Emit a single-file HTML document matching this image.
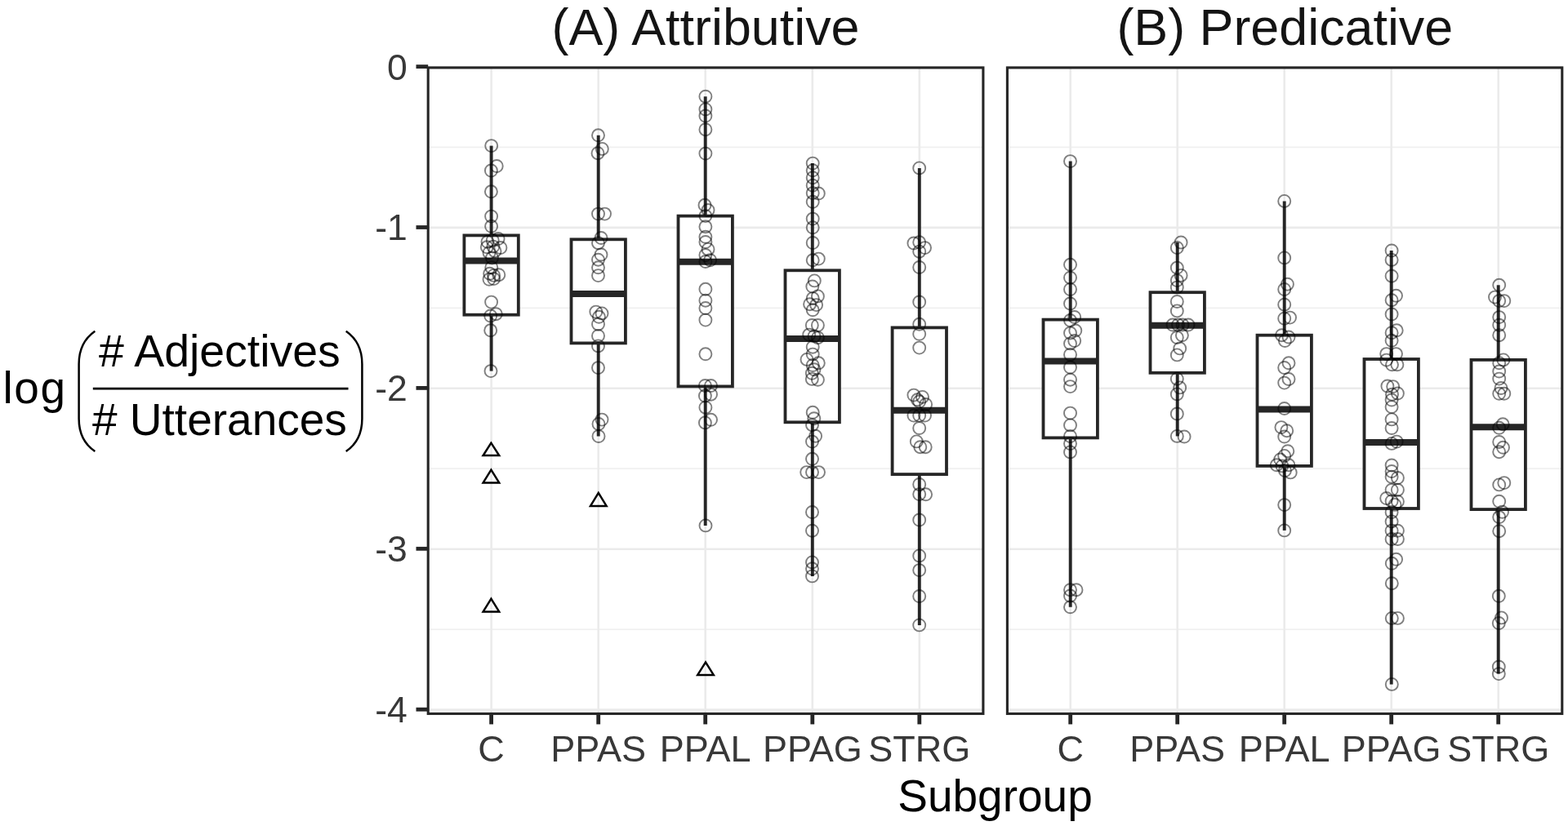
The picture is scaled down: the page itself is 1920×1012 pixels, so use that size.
<!DOCTYPE html><html><head><meta charset="utf-8"><title>Adjectives boxplot</title><style>html,body{margin:0;padding:0;background:#fff;}svg{display:block;}text{font-family:"Liberation Sans",sans-serif;}</style></head><body>
<svg width="1920" height="1012" viewBox="0 0 1920 1012">
<rect x="0" y="0" width="1920" height="1012" fill="#fff"/>
<line x1="524.2" x2="1203.9" y1="180.4" y2="180.4" stroke="#F0F0F0" stroke-width="1.8"/>
<line x1="524.2" x2="1203.9" y1="377.4" y2="377.4" stroke="#F0F0F0" stroke-width="1.8"/>
<line x1="524.2" x2="1203.9" y1="574.2" y2="574.2" stroke="#F0F0F0" stroke-width="1.8"/>
<line x1="524.2" x2="1203.9" y1="771.1" y2="771.1" stroke="#F0F0F0" stroke-width="1.8"/>
<line x1="524.2" x2="1203.9" y1="82" y2="82" stroke="#EBEBEB" stroke-width="2.6"/>
<line x1="524.2" x2="1203.9" y1="278.9" y2="278.9" stroke="#EBEBEB" stroke-width="2.6"/>
<line x1="524.2" x2="1203.9" y1="475.8" y2="475.8" stroke="#EBEBEB" stroke-width="2.6"/>
<line x1="524.2" x2="1203.9" y1="672.7" y2="672.7" stroke="#EBEBEB" stroke-width="2.6"/>
<line x1="524.2" x2="1203.9" y1="869.6" y2="869.6" stroke="#EBEBEB" stroke-width="2.6"/>
<line x1="601.6" x2="601.6" y1="82.9" y2="874.4" stroke="#EBEBEB" stroke-width="2.6"/>
<line x1="732.7" x2="732.7" y1="82.9" y2="874.4" stroke="#EBEBEB" stroke-width="2.6"/>
<line x1="863.7" x2="863.7" y1="82.9" y2="874.4" stroke="#EBEBEB" stroke-width="2.6"/>
<line x1="994.8" x2="994.8" y1="82.9" y2="874.4" stroke="#EBEBEB" stroke-width="2.6"/>
<line x1="1125.8" x2="1125.8" y1="82.9" y2="874.4" stroke="#EBEBEB" stroke-width="2.6"/>
<line x1="1233.4" x2="1912.8" y1="180.4" y2="180.4" stroke="#F0F0F0" stroke-width="1.8"/>
<line x1="1233.4" x2="1912.8" y1="377.4" y2="377.4" stroke="#F0F0F0" stroke-width="1.8"/>
<line x1="1233.4" x2="1912.8" y1="574.2" y2="574.2" stroke="#F0F0F0" stroke-width="1.8"/>
<line x1="1233.4" x2="1912.8" y1="771.1" y2="771.1" stroke="#F0F0F0" stroke-width="1.8"/>
<line x1="1233.4" x2="1912.8" y1="82" y2="82" stroke="#EBEBEB" stroke-width="2.6"/>
<line x1="1233.4" x2="1912.8" y1="278.9" y2="278.9" stroke="#EBEBEB" stroke-width="2.6"/>
<line x1="1233.4" x2="1912.8" y1="475.8" y2="475.8" stroke="#EBEBEB" stroke-width="2.6"/>
<line x1="1233.4" x2="1912.8" y1="672.7" y2="672.7" stroke="#EBEBEB" stroke-width="2.6"/>
<line x1="1233.4" x2="1912.8" y1="869.6" y2="869.6" stroke="#EBEBEB" stroke-width="2.6"/>
<line x1="1310.7" x2="1310.7" y1="82.9" y2="874.4" stroke="#EBEBEB" stroke-width="2.6"/>
<line x1="1441.7" x2="1441.7" y1="82.9" y2="874.4" stroke="#EBEBEB" stroke-width="2.6"/>
<line x1="1572.7" x2="1572.7" y1="82.9" y2="874.4" stroke="#EBEBEB" stroke-width="2.6"/>
<line x1="1703.7" x2="1703.7" y1="82.9" y2="874.4" stroke="#EBEBEB" stroke-width="2.6"/>
<line x1="1834.7" x2="1834.7" y1="82.9" y2="874.4" stroke="#EBEBEB" stroke-width="2.6"/>
<line x1="601.6" x2="601.6" y1="178.6" y2="288.4" stroke="#262626" stroke-width="3.9"/>
<line x1="601.6" x2="601.6" y1="385.7" y2="454.6" stroke="#262626" stroke-width="3.9"/>
<rect x="568.4" y="288.4" width="66.4" height="97.3" fill="#fff" stroke="#262626" stroke-width="3.8"/>
<line x1="568.4" x2="634.8" y1="319.4" y2="319.4" stroke="#262626" stroke-width="8"/>
<polygon points="601.4,542.7 591.6,558 611.2,558" fill="none" stroke="#000" stroke-width="2.5" stroke-linejoin="miter"/>
<polygon points="601.4,575.6 591.6,591.4 611.2,591.4" fill="none" stroke="#000" stroke-width="2.5" stroke-linejoin="miter"/>
<polygon points="601.4,733.6 591.6,749.4 611.2,749.4" fill="none" stroke="#000" stroke-width="2.5" stroke-linejoin="miter"/>
<line x1="732.7" x2="732.7" y1="165.8" y2="293.3" stroke="#262626" stroke-width="3.9"/>
<line x1="732.7" x2="732.7" y1="420.4" y2="534.5" stroke="#262626" stroke-width="3.9"/>
<rect x="699.5" y="293.3" width="66.4" height="127.1" fill="#fff" stroke="#262626" stroke-width="3.8"/>
<line x1="699.5" x2="765.9" y1="360" y2="360" stroke="#262626" stroke-width="8"/>
<polygon points="732.8,603.9 723,619.9 742.6,619.9" fill="none" stroke="#000" stroke-width="2.5" stroke-linejoin="miter"/>
<line x1="863.7" x2="863.7" y1="118.2" y2="264.6" stroke="#262626" stroke-width="3.9"/>
<line x1="863.7" x2="863.7" y1="473.4" y2="643.9" stroke="#262626" stroke-width="3.9"/>
<rect x="830.5" y="264.6" width="66.4" height="208.8" fill="#fff" stroke="#262626" stroke-width="3.8"/>
<line x1="830.5" x2="896.9" y1="320.7" y2="320.7" stroke="#262626" stroke-width="8"/>
<polygon points="864,811.3 854.2,826.9 873.8,826.9" fill="none" stroke="#000" stroke-width="2.5" stroke-linejoin="miter"/>
<line x1="994.8" x2="994.8" y1="200.1" y2="331.3" stroke="#262626" stroke-width="3.9"/>
<line x1="994.8" x2="994.8" y1="517.3" y2="705.9" stroke="#262626" stroke-width="3.9"/>
<rect x="961.5" y="331.3" width="66.4" height="186" fill="#fff" stroke="#262626" stroke-width="3.8"/>
<line x1="961.5" x2="1028" y1="415" y2="415" stroke="#262626" stroke-width="8"/>
<line x1="1125.8" x2="1125.8" y1="205.9" y2="401.4" stroke="#262626" stroke-width="3.9"/>
<line x1="1125.8" x2="1125.8" y1="581.1" y2="765.9" stroke="#262626" stroke-width="3.9"/>
<rect x="1092.6" y="401.4" width="66.4" height="179.7" fill="#fff" stroke="#262626" stroke-width="3.8"/>
<line x1="1092.6" x2="1159" y1="502.8" y2="502.8" stroke="#262626" stroke-width="8"/>
<line x1="1310.7" x2="1310.7" y1="197.6" y2="391.6" stroke="#262626" stroke-width="3.9"/>
<line x1="1310.7" x2="1310.7" y1="536.4" y2="743.8" stroke="#262626" stroke-width="3.9"/>
<rect x="1277.5" y="391.6" width="66.4" height="144.8" fill="#fff" stroke="#262626" stroke-width="3.8"/>
<line x1="1277.5" x2="1343.9" y1="442.5" y2="442.5" stroke="#262626" stroke-width="8"/>
<line x1="1441.7" x2="1441.7" y1="297" y2="358.2" stroke="#262626" stroke-width="3.9"/>
<line x1="1441.7" x2="1441.7" y1="456.8" y2="534.4" stroke="#262626" stroke-width="3.9"/>
<rect x="1408.5" y="358.2" width="66.4" height="98.6" fill="#fff" stroke="#262626" stroke-width="3.8"/>
<line x1="1408.5" x2="1474.9" y1="398.8" y2="398.8" stroke="#262626" stroke-width="8"/>
<line x1="1572.7" x2="1572.7" y1="246.4" y2="410.7" stroke="#262626" stroke-width="3.9"/>
<line x1="1572.7" x2="1572.7" y1="570.9" y2="649.9" stroke="#262626" stroke-width="3.9"/>
<rect x="1539.5" y="410.7" width="66.4" height="160.2" fill="#fff" stroke="#262626" stroke-width="3.8"/>
<line x1="1539.5" x2="1605.9" y1="501.4" y2="501.4" stroke="#262626" stroke-width="8"/>
<line x1="1703.7" x2="1703.7" y1="307" y2="440" stroke="#262626" stroke-width="3.9"/>
<line x1="1703.7" x2="1703.7" y1="623" y2="838.4" stroke="#262626" stroke-width="3.9"/>
<rect x="1670.5" y="440" width="66.4" height="183" fill="#fff" stroke="#262626" stroke-width="3.8"/>
<line x1="1670.5" x2="1736.9" y1="542.1" y2="542.1" stroke="#262626" stroke-width="8"/>
<line x1="1834.7" x2="1834.7" y1="349.3" y2="440.9" stroke="#262626" stroke-width="3.9"/>
<line x1="1834.7" x2="1834.7" y1="624.1" y2="825.6" stroke="#262626" stroke-width="3.9"/>
<rect x="1801.5" y="440.9" width="66.4" height="183.2" fill="#fff" stroke="#262626" stroke-width="3.8"/>
<line x1="1801.5" x2="1867.9" y1="523.2" y2="523.2" stroke="#262626" stroke-width="8"/>
<g fill="none" stroke="#000" stroke-opacity="0.5" stroke-width="1.9">
<circle cx="601.7" cy="178.6" r="7.5"/>
<circle cx="608.2" cy="203.5" r="7.5"/>
<circle cx="601.4" cy="209" r="7.5"/>
<circle cx="601.4" cy="234.8" r="7.5"/>
<circle cx="601.6" cy="265.1" r="7.5"/>
<circle cx="601.6" cy="277.3" r="7.5"/>
<circle cx="603.2" cy="294.5" r="7.5"/>
<circle cx="610.1" cy="292.5" r="7.5"/>
<circle cx="597" cy="296.3" r="7.5"/>
<circle cx="596.3" cy="302.8" r="7.5"/>
<circle cx="612.9" cy="303.5" r="7.5"/>
<circle cx="603.9" cy="302.1" r="7.5"/>
<circle cx="599" cy="309.7" r="7.5"/>
<circle cx="606" cy="307.7" r="7.5"/>
<circle cx="602.5" cy="316" r="7.5"/>
<circle cx="601.8" cy="327.7" r="7.5"/>
<circle cx="599.7" cy="335.3" r="7.5"/>
<circle cx="604.6" cy="337.4" r="7.5"/>
<circle cx="610.8" cy="336.7" r="7.5"/>
<circle cx="599" cy="342.3" r="7.5"/>
<circle cx="604.6" cy="341.6" r="7.5"/>
<circle cx="601.6" cy="370.1" r="7.5"/>
<circle cx="600.7" cy="387" r="7.5"/>
<circle cx="607.3" cy="384.7" r="7.5"/>
<circle cx="600.7" cy="404.8" r="7.5"/>
<circle cx="601" cy="454.6" r="7.5"/>
<circle cx="732.5" cy="165.8" r="7.5"/>
<circle cx="737.3" cy="182.4" r="7.5"/>
<circle cx="732" cy="187.7" r="7.5"/>
<circle cx="732.5" cy="262.1" r="7.5"/>
<circle cx="740.5" cy="262.1" r="7.5"/>
<circle cx="736" cy="291.5" r="7.5"/>
<circle cx="732.5" cy="297.7" r="7.5"/>
<circle cx="736" cy="312" r="7.5"/>
<circle cx="732.5" cy="318.2" r="7.5"/>
<circle cx="732.5" cy="327.8" r="7.5"/>
<circle cx="732.5" cy="337.6" r="7.5"/>
<circle cx="729.8" cy="382.1" r="7.5"/>
<circle cx="737" cy="383.9" r="7.5"/>
<circle cx="733.4" cy="388.3" r="7.5"/>
<circle cx="732.5" cy="397.2" r="7.5"/>
<circle cx="732.5" cy="411.5" r="7.5"/>
<circle cx="732.5" cy="423.9" r="7.5"/>
<circle cx="732.5" cy="450.6" r="7.5"/>
<circle cx="737" cy="514.1" r="7.5"/>
<circle cx="733" cy="519.5" r="7.5"/>
<circle cx="733" cy="534.5" r="7.5"/>
<circle cx="863.9" cy="118.2" r="7.5"/>
<circle cx="863.9" cy="133.9" r="7.5"/>
<circle cx="863.9" cy="142" r="7.5"/>
<circle cx="863.9" cy="158.7" r="7.5"/>
<circle cx="863.9" cy="188.1" r="7.5"/>
<circle cx="863" cy="251.3" r="7.5"/>
<circle cx="867" cy="257.5" r="7.5"/>
<circle cx="863.9" cy="264.6" r="7.5"/>
<circle cx="863.9" cy="277.8" r="7.5"/>
<circle cx="863.9" cy="290.3" r="7.5"/>
<circle cx="863.9" cy="296.5" r="7.5"/>
<circle cx="867" cy="305.4" r="7.5"/>
<circle cx="863.9" cy="312.5" r="7.5"/>
<circle cx="869.6" cy="318.7" r="7.5"/>
<circle cx="863.9" cy="320.5" r="7.5"/>
<circle cx="863.9" cy="354.3" r="7.5"/>
<circle cx="863.9" cy="368.2" r="7.5"/>
<circle cx="863.9" cy="377.5" r="7.5"/>
<circle cx="863.9" cy="392.1" r="7.5"/>
<circle cx="863.9" cy="433.8" r="7.5"/>
<circle cx="863.4" cy="472.5" r="7.5"/>
<circle cx="870.5" cy="472.5" r="7.5"/>
<circle cx="863.4" cy="485" r="7.5"/>
<circle cx="870.5" cy="483.2" r="7.5"/>
<circle cx="863.9" cy="499.2" r="7.5"/>
<circle cx="870.5" cy="514.3" r="7.5"/>
<circle cx="863.4" cy="517.9" r="7.5"/>
<circle cx="864" cy="643.9" r="7.5"/>
<circle cx="995.2" cy="200.1" r="7.5"/>
<circle cx="995.2" cy="208.8" r="7.5"/>
<circle cx="995.2" cy="217.7" r="7.5"/>
<circle cx="995.2" cy="227.2" r="7.5"/>
<circle cx="995.2" cy="236.6" r="7.5"/>
<circle cx="1002.3" cy="237" r="7.5"/>
<circle cx="995.2" cy="247.3" r="7.5"/>
<circle cx="995.2" cy="268.1" r="7.5"/>
<circle cx="995.2" cy="278.8" r="7.5"/>
<circle cx="995.2" cy="297.5" r="7.5"/>
<circle cx="995.2" cy="318.8" r="7.5"/>
<circle cx="1002.3" cy="317.1" r="7.5"/>
<circle cx="997.3" cy="343.9" r="7.5"/>
<circle cx="994.8" cy="351" r="7.5"/>
<circle cx="1001.4" cy="362.9" r="7.5"/>
<circle cx="995.2" cy="365.6" r="7.5"/>
<circle cx="991.6" cy="372.7" r="7.5"/>
<circle cx="999.6" cy="373.6" r="7.5"/>
<circle cx="995.2" cy="379.8" r="7.5"/>
<circle cx="994.3" cy="398.5" r="7.5"/>
<circle cx="1001.4" cy="398.5" r="7.5"/>
<circle cx="990.7" cy="410.1" r="7.5"/>
<circle cx="997" cy="411.9" r="7.5"/>
<circle cx="1001.4" cy="413.7" r="7.5"/>
<circle cx="995.2" cy="425.2" r="7.5"/>
<circle cx="995.2" cy="434.1" r="7.5"/>
<circle cx="988" cy="440.4" r="7.5"/>
<circle cx="1002.3" cy="444.8" r="7.5"/>
<circle cx="995.2" cy="447.5" r="7.5"/>
<circle cx="997" cy="452.8" r="7.5"/>
<circle cx="994.3" cy="457.3" r="7.5"/>
<circle cx="994.3" cy="464.4" r="7.5"/>
<circle cx="1001.4" cy="465.3" r="7.5"/>
<circle cx="995.2" cy="505.3" r="7.5"/>
<circle cx="996.8" cy="512.7" r="7.5"/>
<circle cx="994.5" cy="520.7" r="7.5"/>
<circle cx="998.6" cy="534.3" r="7.5"/>
<circle cx="994.5" cy="541.1" r="7.5"/>
<circle cx="994.5" cy="562.3" r="7.5"/>
<circle cx="987.7" cy="578.6" r="7.5"/>
<circle cx="994.5" cy="578.6" r="7.5"/>
<circle cx="1002.5" cy="578.6" r="7.5"/>
<circle cx="994.5" cy="627.5" r="7.5"/>
<circle cx="994.5" cy="650.2" r="7.5"/>
<circle cx="994.5" cy="688.9" r="7.5"/>
<circle cx="994.5" cy="696.8" r="7.5"/>
<circle cx="994.5" cy="705.9" r="7.5"/>
<circle cx="1125.7" cy="205.9" r="7.5"/>
<circle cx="1118.9" cy="298" r="7.5"/>
<circle cx="1125.7" cy="296.8" r="7.5"/>
<circle cx="1132.5" cy="303.6" r="7.5"/>
<circle cx="1125.7" cy="308.2" r="7.5"/>
<circle cx="1125.7" cy="327.5" r="7.5"/>
<circle cx="1125.7" cy="370" r="7.5"/>
<circle cx="1125.7" cy="397.3" r="7.5"/>
<circle cx="1125.7" cy="409.3" r="7.5"/>
<circle cx="1125.7" cy="426.1" r="7.5"/>
<circle cx="1118.9" cy="484.1" r="7.5"/>
<circle cx="1129.5" cy="486.4" r="7.5"/>
<circle cx="1123.4" cy="489.8" r="7.5"/>
<circle cx="1125.7" cy="492" r="7.5"/>
<circle cx="1133.6" cy="495.5" r="7.5"/>
<circle cx="1118.9" cy="509.1" r="7.5"/>
<circle cx="1125.7" cy="509.1" r="7.5"/>
<circle cx="1132.5" cy="509.1" r="7.5"/>
<circle cx="1125.7" cy="524.5" r="7.5"/>
<circle cx="1122.3" cy="540.9" r="7.5"/>
<circle cx="1126.8" cy="547.7" r="7.5"/>
<circle cx="1133.2" cy="547.7" r="7.5"/>
<circle cx="1125.7" cy="593.5" r="7.5"/>
<circle cx="1125.7" cy="605.6" r="7.5"/>
<circle cx="1133.6" cy="605.8" r="7.5"/>
<circle cx="1125.7" cy="637" r="7.5"/>
<circle cx="1125.7" cy="680.9" r="7.5"/>
<circle cx="1125.7" cy="698.6" r="7.5"/>
<circle cx="1125.7" cy="730.5" r="7.5"/>
<circle cx="1125.7" cy="765.9" r="7.5"/>
<circle cx="1310.5" cy="197.6" r="7.5"/>
<circle cx="1310.5" cy="324.3" r="7.5"/>
<circle cx="1310.5" cy="340.2" r="7.5"/>
<circle cx="1310.5" cy="354.5" r="7.5"/>
<circle cx="1310.5" cy="372" r="7.5"/>
<circle cx="1315.7" cy="388.5" r="7.5"/>
<circle cx="1310.5" cy="392.5" r="7.5"/>
<circle cx="1316.8" cy="405" r="7.5"/>
<circle cx="1310.5" cy="408" r="7.5"/>
<circle cx="1315.7" cy="417.5" r="7.5"/>
<circle cx="1310.5" cy="420.9" r="7.5"/>
<circle cx="1310.5" cy="434.5" r="7.5"/>
<circle cx="1310.5" cy="450" r="7.5"/>
<circle cx="1310.5" cy="465.2" r="7.5"/>
<circle cx="1310.5" cy="473.6" r="7.5"/>
<circle cx="1310.5" cy="506.1" r="7.5"/>
<circle cx="1310.5" cy="520.9" r="7.5"/>
<circle cx="1310.5" cy="534.5" r="7.5"/>
<circle cx="1310.5" cy="543.6" r="7.5"/>
<circle cx="1310.5" cy="553.9" r="7.5"/>
<circle cx="1310.5" cy="722.7" r="7.5"/>
<circle cx="1318" cy="722.7" r="7.5"/>
<circle cx="1310.5" cy="730" r="7.5"/>
<circle cx="1310.5" cy="743.8" r="7.5"/>
<circle cx="1446.1" cy="297" r="7.5"/>
<circle cx="1441.3" cy="303.5" r="7.5"/>
<circle cx="1441.3" cy="328.1" r="7.5"/>
<circle cx="1446.1" cy="337.4" r="7.5"/>
<circle cx="1441.3" cy="343.6" r="7.5"/>
<circle cx="1441.3" cy="352.1" r="7.5"/>
<circle cx="1441.3" cy="369.5" r="7.5"/>
<circle cx="1441.3" cy="380.9" r="7.5"/>
<circle cx="1436" cy="398" r="7.5"/>
<circle cx="1442.5" cy="398" r="7.5"/>
<circle cx="1448" cy="398" r="7.5"/>
<circle cx="1455" cy="398" r="7.5"/>
<circle cx="1441.3" cy="413.5" r="7.5"/>
<circle cx="1447.4" cy="410.8" r="7.5"/>
<circle cx="1444.7" cy="426.9" r="7.5"/>
<circle cx="1441.3" cy="434.9" r="7.5"/>
<circle cx="1441.3" cy="464.2" r="7.5"/>
<circle cx="1444.7" cy="474.9" r="7.5"/>
<circle cx="1441.3" cy="482.9" r="7.5"/>
<circle cx="1441.3" cy="507" r="7.5"/>
<circle cx="1441.3" cy="534.4" r="7.5"/>
<circle cx="1450.1" cy="535" r="7.5"/>
<circle cx="1572.7" cy="246.4" r="7.5"/>
<circle cx="1572.7" cy="315.9" r="7.5"/>
<circle cx="1576.4" cy="348.2" r="7.5"/>
<circle cx="1572.7" cy="354.5" r="7.5"/>
<circle cx="1572.7" cy="373.2" r="7.5"/>
<circle cx="1572.7" cy="390.2" r="7.5"/>
<circle cx="1579.5" cy="389.1" r="7.5"/>
<circle cx="1569.5" cy="410.7" r="7.5"/>
<circle cx="1578" cy="413" r="7.5"/>
<circle cx="1573.4" cy="417.5" r="7.5"/>
<circle cx="1578" cy="444.8" r="7.5"/>
<circle cx="1572.7" cy="450.5" r="7.5"/>
<circle cx="1578" cy="464.5" r="7.5"/>
<circle cx="1572.7" cy="469.1" r="7.5"/>
<circle cx="1572.7" cy="500.5" r="7.5"/>
<circle cx="1568.9" cy="523.6" r="7.5"/>
<circle cx="1575.7" cy="527.7" r="7.5"/>
<circle cx="1572.7" cy="535" r="7.5"/>
<circle cx="1576.8" cy="552.7" r="7.5"/>
<circle cx="1572.7" cy="558.4" r="7.5"/>
<circle cx="1567.7" cy="563" r="7.5"/>
<circle cx="1563.2" cy="569.8" r="7.5"/>
<circle cx="1570" cy="570.9" r="7.5"/>
<circle cx="1578" cy="569.8" r="7.5"/>
<circle cx="1573.4" cy="576.6" r="7.5"/>
<circle cx="1580.2" cy="578.9" r="7.5"/>
<circle cx="1572.7" cy="618.6" r="7.5"/>
<circle cx="1572.7" cy="649.9" r="7.5"/>
<circle cx="1704.1" cy="307" r="7.5"/>
<circle cx="1704.1" cy="318.4" r="7.5"/>
<circle cx="1704.1" cy="338.2" r="7.5"/>
<circle cx="1709.5" cy="362.3" r="7.5"/>
<circle cx="1704.1" cy="367.7" r="7.5"/>
<circle cx="1704.1" cy="385" r="7.5"/>
<circle cx="1710.2" cy="404.8" r="7.5"/>
<circle cx="1704.1" cy="407.7" r="7.5"/>
<circle cx="1704.1" cy="417.3" r="7.5"/>
<circle cx="1697.7" cy="433.6" r="7.5"/>
<circle cx="1709.5" cy="433.6" r="7.5"/>
<circle cx="1697.7" cy="441.1" r="7.5"/>
<circle cx="1704.5" cy="446.8" r="7.5"/>
<circle cx="1710.9" cy="446.8" r="7.5"/>
<circle cx="1698.9" cy="473" r="7.5"/>
<circle cx="1705.7" cy="473.6" r="7.5"/>
<circle cx="1711.4" cy="482" r="7.5"/>
<circle cx="1704.5" cy="483.2" r="7.5"/>
<circle cx="1704.1" cy="490" r="7.5"/>
<circle cx="1704.1" cy="498.6" r="7.5"/>
<circle cx="1704.1" cy="513.9" r="7.5"/>
<circle cx="1704.1" cy="524.5" r="7.5"/>
<circle cx="1704.1" cy="543.4" r="7.5"/>
<circle cx="1710.2" cy="541.1" r="7.5"/>
<circle cx="1704.1" cy="570" r="7.5"/>
<circle cx="1704.1" cy="577.5" r="7.5"/>
<circle cx="1704.1" cy="584.3" r="7.5"/>
<circle cx="1711.4" cy="585.5" r="7.5"/>
<circle cx="1704.1" cy="600.2" r="7.5"/>
<circle cx="1711.4" cy="600.2" r="7.5"/>
<circle cx="1697.7" cy="610.5" r="7.5"/>
<circle cx="1704.1" cy="613.9" r="7.5"/>
<circle cx="1711.4" cy="614.5" r="7.5"/>
<circle cx="1708" cy="618.4" r="7.5"/>
<circle cx="1704.1" cy="627.5" r="7.5"/>
<circle cx="1704.1" cy="638.9" r="7.5"/>
<circle cx="1704.1" cy="650.2" r="7.5"/>
<circle cx="1711.4" cy="650.2" r="7.5"/>
<circle cx="1704.1" cy="660.5" r="7.5"/>
<circle cx="1711.4" cy="660.5" r="7.5"/>
<circle cx="1709.6" cy="685.3" r="7.5"/>
<circle cx="1704.3" cy="690.3" r="7.5"/>
<circle cx="1704.3" cy="714.7" r="7.5"/>
<circle cx="1704.3" cy="757.4" r="7.5"/>
<circle cx="1711.4" cy="757.4" r="7.5"/>
<circle cx="1704.3" cy="838.4" r="7.5"/>
<circle cx="1835.7" cy="349.3" r="7.5"/>
<circle cx="1830.5" cy="364.1" r="7.5"/>
<circle cx="1835.7" cy="368.6" r="7.5"/>
<circle cx="1841.8" cy="368.6" r="7.5"/>
<circle cx="1835.7" cy="388.6" r="7.5"/>
<circle cx="1835.7" cy="398.2" r="7.5"/>
<circle cx="1835.7" cy="410.7" r="7.5"/>
<circle cx="1840.9" cy="440.9" r="7.5"/>
<circle cx="1835.7" cy="444.8" r="7.5"/>
<circle cx="1835.7" cy="455" r="7.5"/>
<circle cx="1835.7" cy="464.1" r="7.5"/>
<circle cx="1838" cy="475.5" r="7.5"/>
<circle cx="1835.7" cy="482.3" r="7.5"/>
<circle cx="1841.8" cy="482.3" r="7.5"/>
<circle cx="1840.2" cy="519.8" r="7.5"/>
<circle cx="1835.7" cy="524.3" r="7.5"/>
<circle cx="1835.7" cy="541.5" r="7.5"/>
<circle cx="1840.5" cy="548.3" r="7.5"/>
<circle cx="1835.7" cy="553.7" r="7.5"/>
<circle cx="1835.7" cy="593.9" r="7.5"/>
<circle cx="1841.8" cy="591.6" r="7.5"/>
<circle cx="1835.7" cy="614.3" r="7.5"/>
<circle cx="1839.5" cy="627.3" r="7.5"/>
<circle cx="1835.7" cy="633.6" r="7.5"/>
<circle cx="1835.7" cy="650.7" r="7.5"/>
<circle cx="1835.3" cy="730.3" r="7.5"/>
<circle cx="1838.5" cy="756.9" r="7.5"/>
<circle cx="1835.3" cy="763.5" r="7.5"/>
<circle cx="1835.3" cy="817" r="7.5"/>
<circle cx="1835.3" cy="825.6" r="7.5"/>
</g>
<rect x="524.2" y="82.9" width="679.7" height="791.5" fill="none" stroke="#262626" stroke-width="3.1"/>
<rect x="1233.4" y="82.9" width="679.4" height="791.5" fill="none" stroke="#262626" stroke-width="3.1"/>
<line x1="509.5" x2="524.2" y1="81.6" y2="81.6" stroke="#262626" stroke-width="4.8"/>
<line x1="509.5" x2="524.2" y1="278.5" y2="278.5" stroke="#262626" stroke-width="4.8"/>
<line x1="509.5" x2="524.2" y1="475.4" y2="475.4" stroke="#262626" stroke-width="4.8"/>
<line x1="509.5" x2="524.2" y1="672.3" y2="672.3" stroke="#262626" stroke-width="4.8"/>
<line x1="509.5" x2="524.2" y1="869.2" y2="869.2" stroke="#262626" stroke-width="4.8"/>
<line x1="601.6" x2="601.6" y1="874.4" y2="887.4" stroke="#262626" stroke-width="4.8"/>
<line x1="732.7" x2="732.7" y1="874.4" y2="887.4" stroke="#262626" stroke-width="4.8"/>
<line x1="863.7" x2="863.7" y1="874.4" y2="887.4" stroke="#262626" stroke-width="4.8"/>
<line x1="994.8" x2="994.8" y1="874.4" y2="887.4" stroke="#262626" stroke-width="4.8"/>
<line x1="1125.8" x2="1125.8" y1="874.4" y2="887.4" stroke="#262626" stroke-width="4.8"/>
<line x1="1310.7" x2="1310.7" y1="874.4" y2="887.4" stroke="#262626" stroke-width="4.8"/>
<line x1="1441.7" x2="1441.7" y1="874.4" y2="887.4" stroke="#262626" stroke-width="4.8"/>
<line x1="1572.7" x2="1572.7" y1="874.4" y2="887.4" stroke="#262626" stroke-width="4.8"/>
<line x1="1703.7" x2="1703.7" y1="874.4" y2="887.4" stroke="#262626" stroke-width="4.8"/>
<line x1="1834.7" x2="1834.7" y1="874.4" y2="887.4" stroke="#262626" stroke-width="4.8"/>
<text x="498.8" y="97.5" font-size="44.5" fill="#383838" text-anchor="end">0</text>
<text x="498.8" y="294.4" font-size="44.5" fill="#383838" text-anchor="end">-1</text>
<text x="498.8" y="491.3" font-size="44.5" fill="#383838" text-anchor="end">-2</text>
<text x="498.8" y="688.2" font-size="44.5" fill="#383838" text-anchor="end">-3</text>
<text x="498.8" y="885.1" font-size="44.5" fill="#383838" text-anchor="end">-4</text>
<text x="601.6" y="932.5" font-size="45" fill="#383838" text-anchor="middle">C</text>
<text x="732.7" y="932.5" font-size="45" fill="#383838" text-anchor="middle">PPAS</text>
<text x="863.7" y="932.5" font-size="45" fill="#383838" text-anchor="middle">PPAL</text>
<text x="994.8" y="932.5" font-size="45" fill="#383838" text-anchor="middle">PPAG</text>
<text x="1125.8" y="932.5" font-size="45" fill="#383838" text-anchor="middle">STRG</text>
<text x="1310.7" y="932.5" font-size="45" fill="#383838" text-anchor="middle">C</text>
<text x="1441.7" y="932.5" font-size="45" fill="#383838" text-anchor="middle">PPAS</text>
<text x="1572.7" y="932.5" font-size="45" fill="#383838" text-anchor="middle">PPAL</text>
<text x="1703.7" y="932.5" font-size="45" fill="#383838" text-anchor="middle">PPAG</text>
<text x="1834.7" y="932.5" font-size="45" fill="#383838" text-anchor="middle">STRG</text>
<text x="864" y="54.5" font-size="62.8" fill="#141414" text-anchor="middle">(A) Attributive</text>
<text x="1573.3" y="54.5" font-size="62.8" fill="#141414" text-anchor="middle">(B) Predicative</text>
<text x="1218.5" y="994.2" font-size="55" fill="#000" text-anchor="middle">Subgroup</text>
<text x="3.4" y="493.5" font-size="55" letter-spacing="1.6" fill="#000">log</text>
<text x="268.9" y="448.7" font-size="55.4" fill="#000" text-anchor="middle"># Adjectives</text>
<text x="268.9" y="533.3" font-size="55" fill="#000" text-anchor="middle"># Utterances</text>
<line x1="113.8" x2="426.5" y1="476.2" y2="476.2" stroke="#000" stroke-width="2.8"/>
<path d="M116.3,405.8 C104.5,414 96.6,426 96.6,446 L96.6,513 C96.6,533 104.5,545 116.3,553" fill="none" stroke="#000" stroke-width="2.5"/>
<path d="M423.7,405.8 C435.5,414 443.4,426 443.4,446 L443.4,513 C443.4,533 435.5,545 423.7,553" fill="none" stroke="#000" stroke-width="2.5"/>
</svg></body></html>
